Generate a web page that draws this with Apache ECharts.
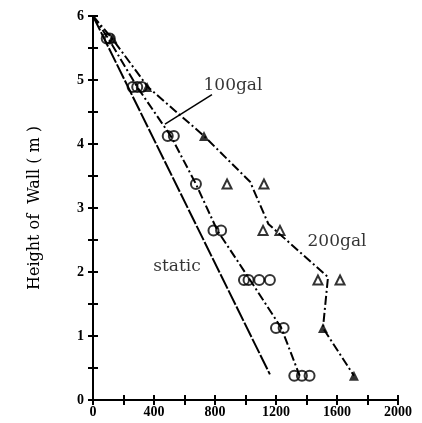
<!DOCTYPE html>
<html>
<head>
<meta charset="utf-8">
<script src="https://cdn.jsdelivr.net/npm/echarts@6/dist/echarts.min.js"></script>
<style>
  html, body { margin: 0; padding: 0; background: #fff; }
  #chart { width: 422px; height: 423px; }
</style>
</head>
<body>
<div id="chart"></div>
<script>
// lines: [pressure, height]
const staticLine = [[0, 6], [1160, 0.4]]
const gal100Line = [[0, 6], [100, 5.65], [290, 4.89], [510, 4.125], [675, 3.375], [815, 2.65], [1030, 1.875], [1235, 1.125], [1355, 0.38]]
const gal200Line = [[0, 6], [125, 5.65], [360, 4.89], [728, 4.125], [1030, 3.41], [1150, 2.75], [1541, 1.92], [1508, 1.125], [1711, 0.38]]

// measured points
const circles = [
  [90, 5.65], [110, 5.65],
  [260, 4.89], [290, 4.89], [320, 4.89],
  [490, 4.125], [530, 4.125],
  [675, 3.375],
  [790, 2.65], [840, 2.65],
  [990, 1.875], [1020, 1.875], [1090, 1.875], [1160, 1.875],
  [1200, 1.125], [1250, 1.125],
  [1320, 0.38], [1370, 0.38], [1420, 0.38]
]
const filledTriangles = [[128, 5.65], [355, 4.89], [728, 4.125], [1508, 1.125], [1711, 0.38]]
const openTriangles = [[879, 3.375], [1121, 3.375], [1115, 2.65], [1226, 2.65], [1475, 1.875], [1620, 1.875]]

const pointer100 = [[780, 4.77], [472, 4.31]]
const notes = [
  { name: '100gal', value: [918, 4.92] },
  { name: '200gal', value: [1600, 2.48] },
  { name: 'static', value: [551, 2.09] },
]

const xTicks = [0, 400, 800, 1200, 1600, 2000]
const yTicks = [0, 1, 2, 3, 4, 5, 6]

const tickFont = { color: '#000', fontFamily: 'Liberation Sans Narrow', fontWeight: 'bold', fontSize: 14 }
const axisLine = { lineStyle: { color: '#000', width: 2 } }
const inTick = { inside: true, length: 5, lineStyle: { color: '#000', width: 2 } }

const chart = echarts.init(document.getElementById('chart'))
chart.setOption({
  animation: false,
  backgroundColor: '#fff',
  grid: { left: 93, right: 24, top: 16, bottom: 23 },
  xAxis: [
    {
      type: 'value', min: 0, max: 2000, interval: 200,
      axisLine, axisTick: inTick, splitLine: { show: false },
      axisLabel: { ...tickFont, margin: 5, formatter: (v) => (xTicks.includes(v) ? String(v) : '') },
    },
    {
      type: 'value', position: 'top', min: 0, max: 2000, interval: 200,
      axisLine, axisTick: inTick, splitLine: { show: false }, axisLabel: { show: false },
    },
  ],
  yAxis: [
    {
      type: 'value', min: 0, max: 6, interval: 0.5,
      axisLine, axisTick: inTick, splitLine: { show: false },
      axisLabel: { ...tickFont, margin: 9, formatter: (v) => (yTicks.includes(v) ? String(v) : '') },
      name: 'Height of  Wall ( m )', nameLocation: 'middle', nameGap: 50,
      nameTextStyle: { color: '#000', fontFamily: 'DejaVu Serif', fontSize: 16 },
    },
    {
      type: 'value', position: 'right', min: 0, max: 6, interval: 0.5,
      axisLine, axisTick: inTick, splitLine: { show: false }, axisLabel: { show: false },
    },
  ],
  series: [
    {
      type: 'line', data: staticLine, symbol: 'none',
      lineStyle: { color: '#000', width: 2, type: [16, 2] },
    },
    {
      type: 'line', data: gal100Line, symbol: 'none',
      lineStyle: { color: '#000', width: 2, type: [9, 3, 2, 3] },
    },
    {
      type: 'line', data: gal200Line, symbol: 'none',
      lineStyle: { color: '#000', width: 2, type: [9, 3, 2, 3] },
    },
    {
      type: 'line', data: pointer100, symbol: 'none',
      lineStyle: { color: '#000', width: 1.5 },
    },
    {
      type: 'scatter', data: circles, symbol: 'circle', symbolSize: 10,
      itemStyle: { color: 'rgba(0,0,0,0)', borderColor: '#000', borderWidth: 2 },
    },
    {
      type: 'scatter', data: filledTriangles, symbol: 'triangle', symbolSize: 10,
      itemStyle: { color: '#000' },
    },
    {
      type: 'scatter', data: openTriangles, symbol: 'triangle', symbolSize: 9,
      itemStyle: { color: '#fff', borderColor: '#000', borderWidth: 2 },
    },
    {
      type: 'scatter', data: notes, symbolSize: 0,
      label: {
        show: true, position: 'inside', formatter: '{b}',
        color: '#000', fontFamily: 'DejaVu Serif', fontSize: 17,
      },
    },
  ],
})
</script>
</body>
</html>
